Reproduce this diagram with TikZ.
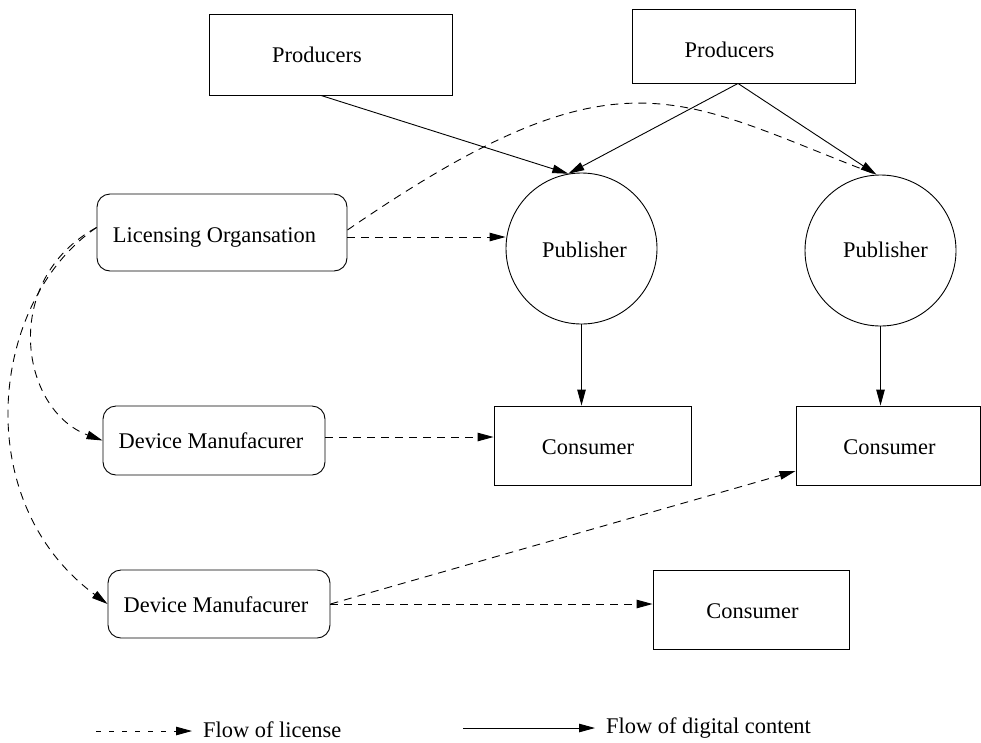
\documentclass[tikz,border=0pt]{standalone}
\usepackage{fontspec}
\setmainfont{Liberation Serif}
\usetikzlibrary{arrows.meta,calc}
\begin{document}
\begin{tikzpicture}[x=1pt,y=-1pt,
  lw/.style={line width=0.9pt},
  boxr/.style={draw,lw,rectangle,inner sep=0pt},
  rbox/.style={draw,lw,rectangle,rounded corners=13pt,inner sep=0pt},
  pubc/.style={draw,lw,circle,minimum size=151pt,inner sep=0pt},
  txt/.style={anchor=base,inner sep=0pt,font=\fontsize{22.4}{27}\selectfont},
  tip/.style={-{Triangle[length=16pt,width=8.5pt]}},
  content/.style={lw,tip},
  license/.style={lw,dash pattern=on 8pt off 6pt,tip},
  licnotip/.style={lw,dash pattern=on 8pt off 6pt},
]
\useasboundingbox (0,0) rectangle (981,742);

% boxes
\node[boxr,minimum width=243pt,minimum height=81pt] (p1) at (330.5,54.5) {};
\node[boxr,minimum width=223pt,minimum height=74pt] (p2) at (743.5,46) {};
\node[rbox,minimum width=250pt,minimum height=77pt] (lic) at (222,232.5) {};
\node[pubc] (pub1) at (581.5,248.5) {};
\node[pubc] (pub2) at (880.5,250.5) {};
\node[rbox,minimum width=222pt,minimum height=69pt] (dm1) at (214,440.5) {};
\node[rbox,minimum width=222pt,minimum height=68pt] (dm2) at (219,604) {};
\node[boxr,minimum width=197pt,minimum height=79pt] (c1) at (592.5,445.5) {};
\node[boxr,minimum width=184pt,minimum height=79pt] (c2) at (888,445.5) {};
\node[boxr,minimum width=196pt,minimum height=79pt] (c3) at (751,609.5) {};

% texts
\node[txt] (p1t) at (317,62) {Producers};
\node[txt] (p2t) at (729.5,57.3) {Producers};
\node[txt] (lict) at (214.5,242.7) {Licensing Organsation};
\node[txt] (pub1t) at (584.5,257.7) {Publisher};
\node[txt] (pub2t) at (885.5,257.7) {Publisher};
\node[txt] (dm1t) at (211,448.3) {Device Manufacurer};
\node[txt] (dm2t) at (216,612) {Device Manufacurer};
\node[txt] (c1t) at (588,454) {Consumer};
\node[txt] (c2t) at (889.5,454) {Consumer};
\node[txt] (c3t) at (752.5,618.3) {Consumer};

% content flow
\draw[content] ([xshift=-9.5pt]p1.south) -- (pub1.100);
\draw[content] ([xshift=-5.5pt]p2.south) -- (pub1.100);
\draw[content] ([xshift=-5.5pt]p2.south) -- (pub2.93);
\draw[content] (pub1.south) -- (pub1.south |- c1.north);
\draw[content] (pub2.south) -- (pub2.south |- c2.north);

% license flow
\coordinate (lico) at ([yshift=-4.5pt]lic.east);
\draw[license] (lico) -- (lico -| pub1.west);
\draw[licnotip] ([yshift=2.5pt]lic.east) .. controls (622,41) and (677,99) .. (pub2.93);
\draw[license] ([yshift=5pt]lic.west) .. controls (0,280) and (20,410) .. (dm1.west);
\draw[license] ([yshift=5pt]lic.west) .. controls (-10,300) and (-32,501) .. (dm2.west);
\coordinate (dm1o) at ([yshift=3.5pt]dm1.east);
\draw[license] (dm1o) -- (dm1o -| c1.west);
\draw[license] (dm2.east) -- (dm2.east -| c3.west);
\draw[license] (dm2.east) -- ([yshift=-25.5pt]c2.west);

% legend
\coordinate (l1a) at (96,731);
\coordinate (l1b) at (192,731);
\draw[lw,tip,dash pattern=on 5pt off 8pt] (l1a) -- (l1b);
\node[txt,anchor=base west] (l1t) at (203,737.5) {Flow of license};
\coordinate (l2a) at (463,728);
\coordinate (l2b) at (595,728);
\draw[content] (l2a) -- (l2b);
\node[txt,anchor=base west] (l2t) at (606,733) {Flow of digital content};
\end{tikzpicture}
\end{document}
